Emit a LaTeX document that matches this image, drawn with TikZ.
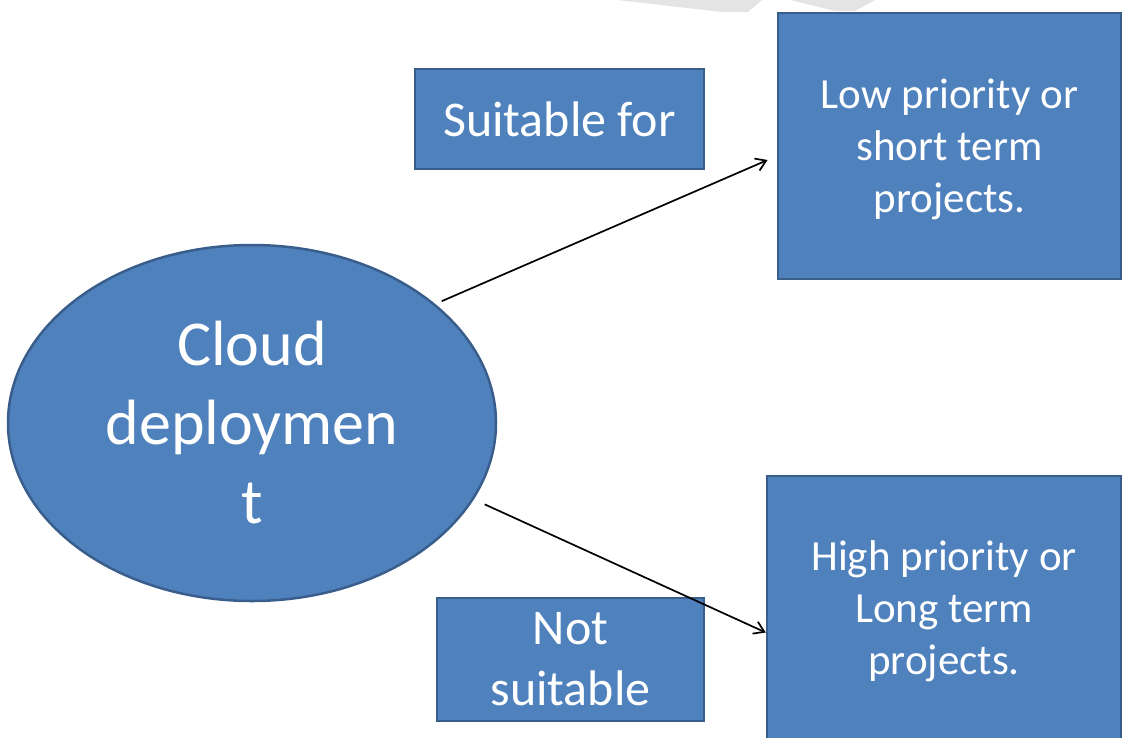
\documentclass[tikz,border=0pt]{standalone}
\usepackage{fontspec}
\setmainfont{Carlito}
\usetikzlibrary{shapes.geometric,arrows.meta}
\definecolor{boxfill}{HTML}{4F81BD}
\definecolor{boxline}{HTML}{3A5E8C}
\definecolor{wmark}{HTML}{E4E4E4}
\tikzset{
  blue shape/.style={fill=boxfill, draw=boxline, line width=2.5pt, text=white, inner sep=0pt, align=center},
  bluebox/.style={blue shape, rectangle},
  blueoval/.style={blue shape, ellipse},
  conn/.style={draw=black, line width=1.7pt, -{Straight Barb[length=10pt,width=13pt,line width=1.7pt]}},
}
\begin{document}
\begin{tikzpicture}[x=1pt,y=-1pt]
\useasboundingbox (0,0) rectangle (1122,737);
\clip (0,0) rectangle (1122,737);
% faint watermark fragment at the top
\fill[wmark] (617,0) -- (722,12) -- (748,12) -- (762,0) -- cycle;
\fill[wmark] (790,0) -- (835,11) -- (855,11) -- (875,0) -- cycle;

\node[blueoval, minimum width=488pt, minimum height=356pt,
      font=\fontsize{64}{79}\selectfont] (cloud) at (252,423) {Cloud\\deploymen\\t};

\node[bluebox, minimum width=289pt, minimum height=100pt,
      font=\fontsize{50}{61}\selectfont] (suit) at (559.5,119) {Suitable for};

\node[bluebox, minimum width=267pt, minimum height=123pt,
      font=\fontsize{50}{61}\selectfont] (notsuit) at (570.5,659.5) {Not\\suitable};

\node[bluebox, minimum width=343pt, minimum height=266pt,
      font=\fontsize{43}{52}\selectfont] (low) at (949.5,146) {\rule{0pt}{36pt}Low priority or\\short term\\projects.};

\node[bluebox, minimum width=354pt, minimum height=271pt,
      font=\fontsize{43}{52}\selectfont] (high) at (944,611.5) {High priority or\\Long term\\projects.};

\draw[conn, shorten <=7pt, shorten >=10pt] (cloud.33) -- ([yshift=-10pt]low.west);
\draw[conn, shorten <=12pt] (cloud.-19) -- ([yshift=-21pt]high.west);
\end{tikzpicture}
\end{document}
